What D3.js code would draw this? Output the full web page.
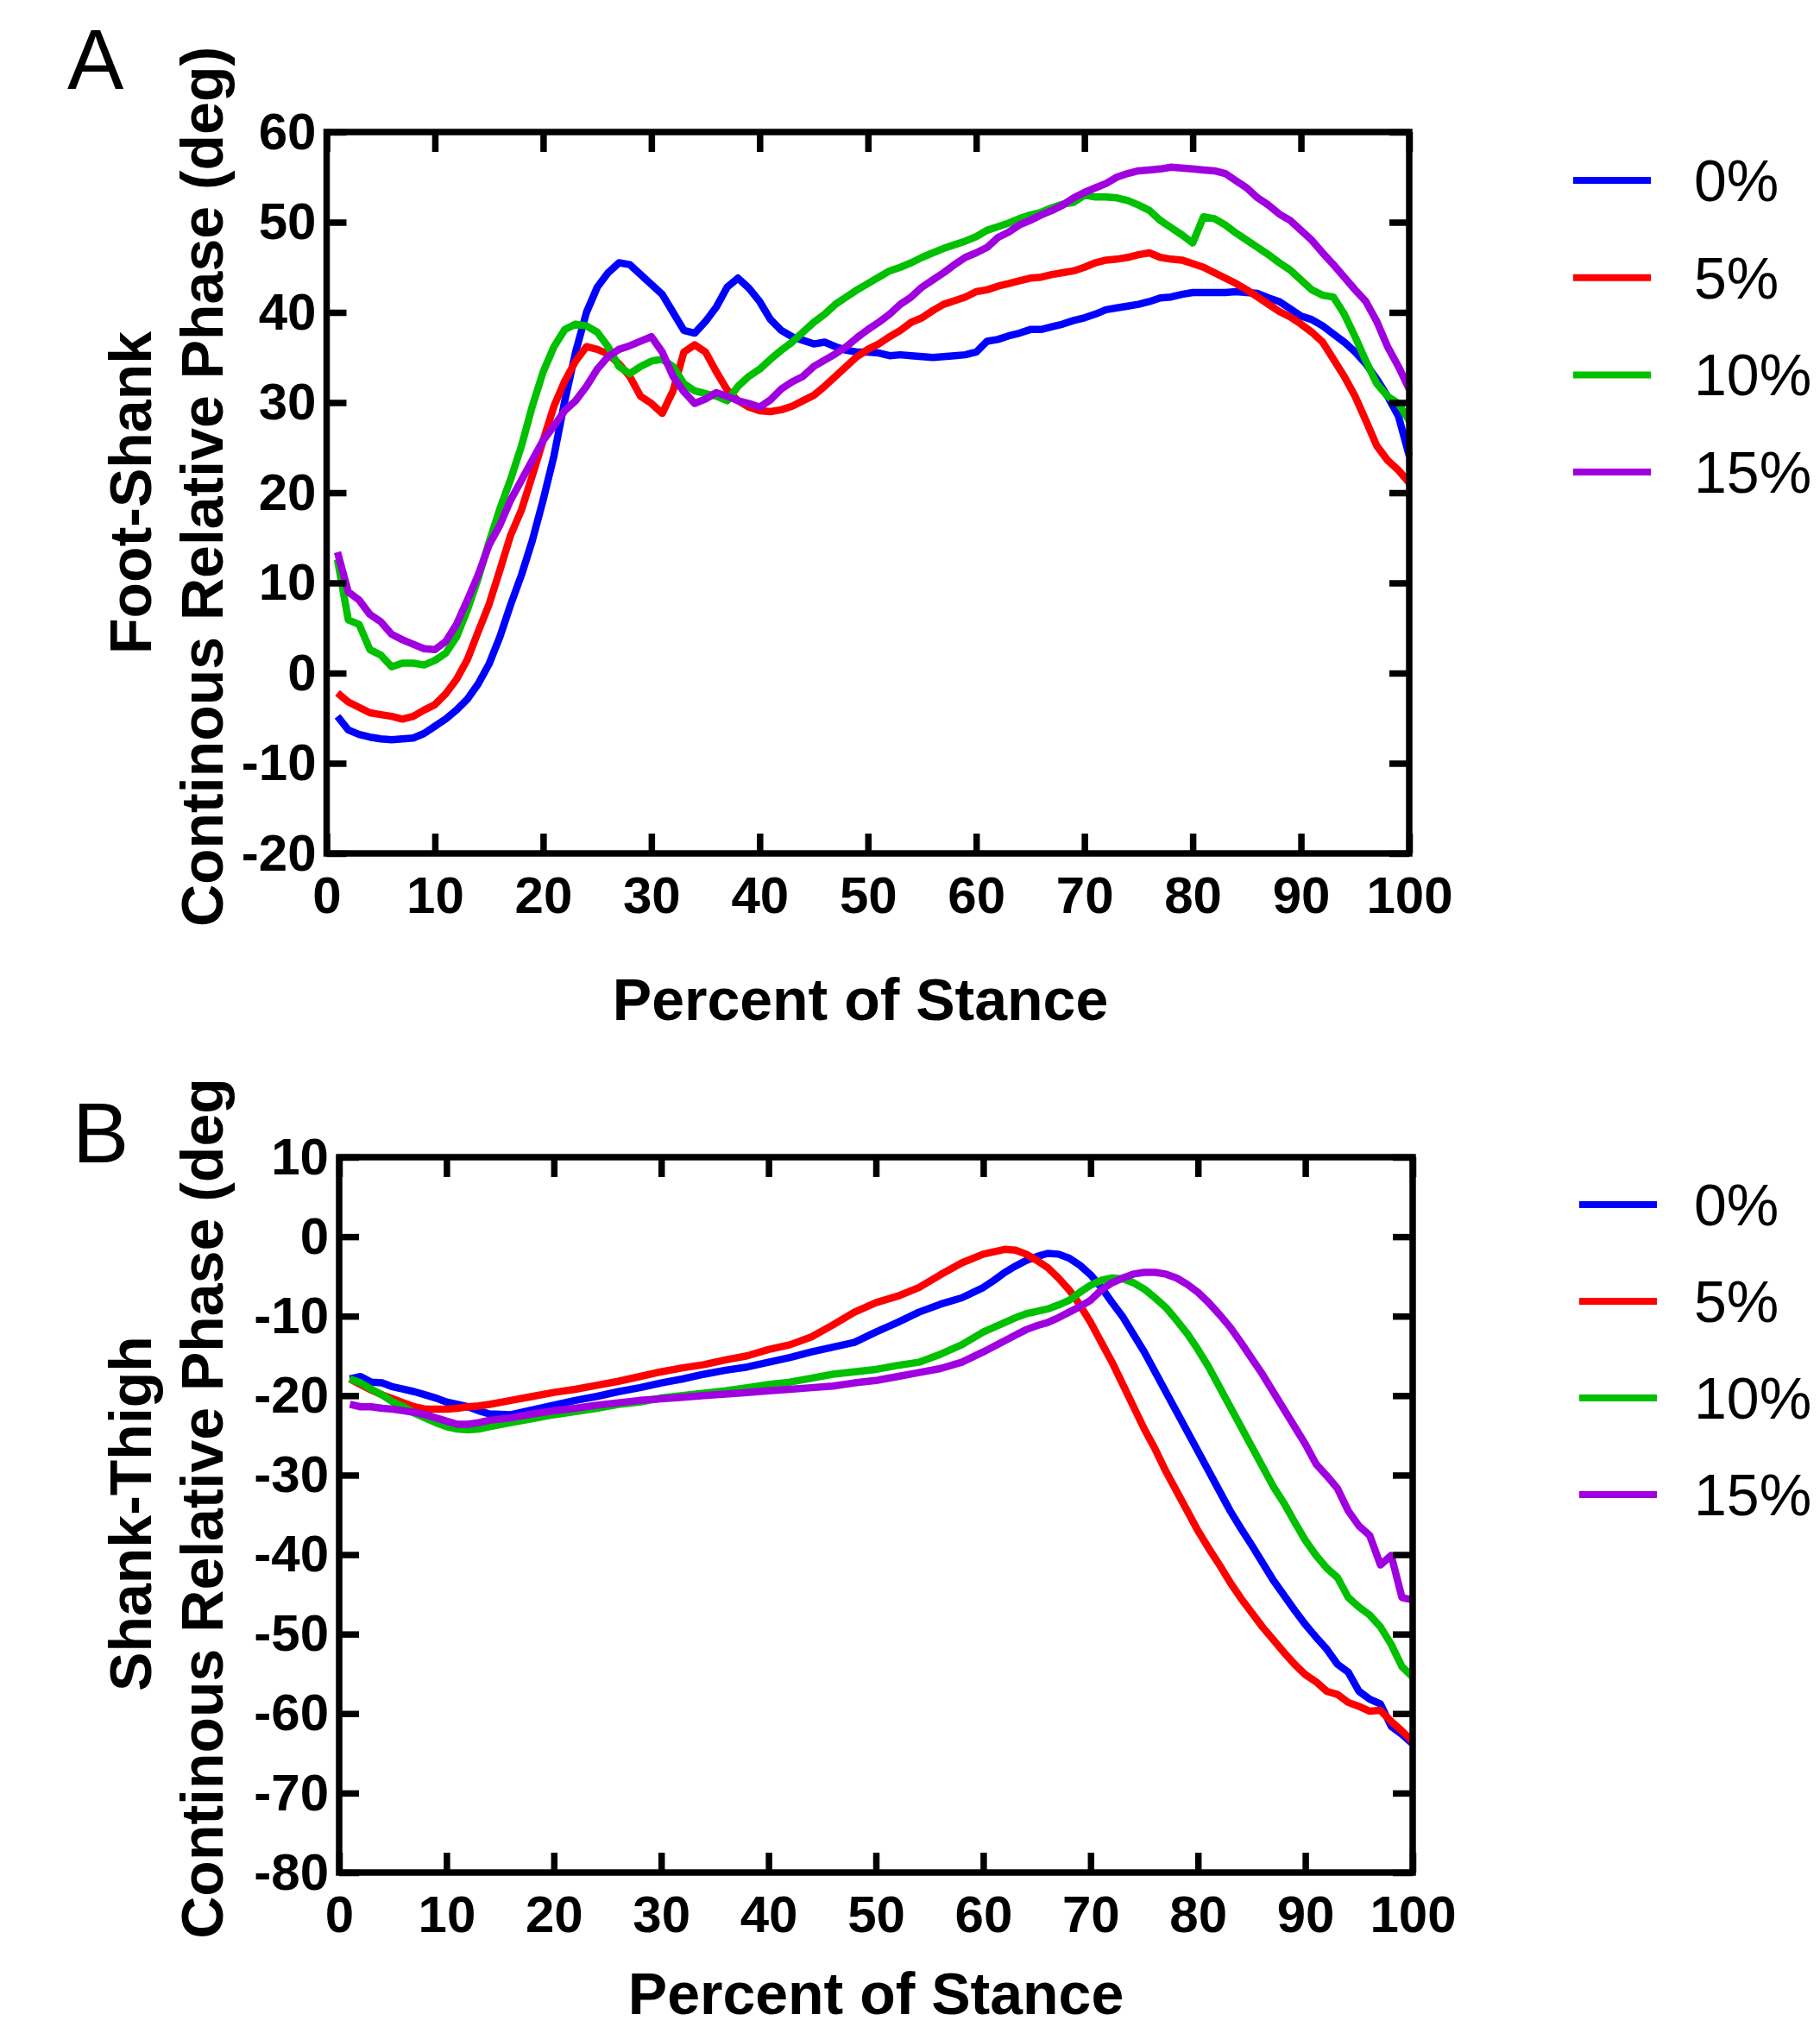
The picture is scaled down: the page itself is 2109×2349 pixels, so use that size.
<!DOCTYPE html>
<html>
<head>
<meta charset="utf-8">
<script src="https://cdn.jsdelivr.net/npm/d3@7"></script>
<style>
  body { margin: 0; background: #fff; }
  text { font-family: "Liberation Sans", Arial, Helvetica, sans-serif; fill: #000; }
</style>
</head>
<body>
<script>
const w = 2109;
const h = 2349;

// legend / series
const conditions = ['0%', '5%', '10%', '15%'];
const colors = ['#0000ff', '#ff0000', '#00c000', '#a000e0'];

// ticks
const ticksX = [0, 10, 20, 30, 40, 50, 60, 70, 80, 90, 100];
const ticksA = [-20, -10, 0, 10, 20, 30, 40, 50, 60];
const ticksB = [-80, -70, -60, -50, -40, -30, -20, -10, 0, 10];

// panel A: foot-shank, percent of stance 1..100
const stanceA = d3.range(1, 101);
const footShank0 = [
  -4.8, -6.3, -6.8, -7.1, -7.3, -7.4, -7.3, -7.2, -6.7, -5.9,
  -5.1, -4.1, -2.9, -1.2, 1.0, 4.0, 7.6, 10.9, 14.7, 19.2,
  24.1, 30.2, 35.6, 40.0, 42.8, 44.4, 45.5, 45.3, 44.2, 43.1,
  42.0, 40.0, 38.0, 37.7, 39.0, 40.6, 42.8, 43.8, 42.7, 41.2,
  39.2, 38.0, 37.3, 36.9, 36.5, 36.7, 36.2, 35.8, 35.6, 35.6,
  35.5, 35.2, 35.3, 35.2, 35.1, 35.0, 35.1, 35.2, 35.3, 35.6,
  36.8, 37.0, 37.4, 37.7, 38.1, 38.1, 38.4, 38.7, 39.1, 39.4,
  39.8, 40.3, 40.5, 40.7, 40.9, 41.2, 41.6, 41.7, 42.0, 42.2,
  42.2, 42.2, 42.2, 42.3, 42.2, 42.1, 41.6, 41.2, 40.4, 39.6,
  39.2, 38.5, 37.6, 36.7, 35.6, 34.3, 32.6, 30.7, 28.5, 24.1
];
const footShank5 = [
  -2.2, -3.2, -3.8, -4.4, -4.6, -4.8, -5.1, -4.8, -4.1, -3.5,
  -2.3, -0.7, 1.5, 4.6, 7.6, 11.4, 15.3, 18.1, 21.9, 25.8,
  29.6, 32.4, 34.6, 36.2, 35.9, 35.4, 34.3, 32.9, 30.7, 29.9,
  28.8, 31.3, 35.6, 36.4, 35.6, 33.4, 31.4, 30.2, 29.5, 29.1,
  29.0, 29.2, 29.6, 30.2, 30.8, 31.8, 32.9, 34.0, 35.1, 35.9,
  36.5, 37.3, 38.0, 38.9, 39.4, 40.2, 40.9, 41.3, 41.7, 42.3,
  42.5, 42.9, 43.2, 43.5, 43.8, 43.9, 44.2, 44.4, 44.6, 45.0,
  45.5, 45.8, 45.9, 46.1, 46.4, 46.6, 46.1, 45.9, 45.8, 45.4,
  45.0, 44.4, 43.8, 43.2, 42.5, 41.7, 40.9, 40.1, 39.5, 38.7,
  37.8, 36.7, 34.8, 32.9, 30.7, 28.0, 25.2, 23.6, 22.5, 21.1
];
const footShank10 = [
  12.6, 5.9, 5.4, 2.6, 2.0, 0.7, 1.1, 1.1, 0.9, 1.4,
  2.2, 4.0, 7.0, 10.5, 14.5, 18.2, 21.5, 25.2, 29.6, 33.4,
  36.2, 38.1, 38.7, 38.5, 37.8, 36.2, 34.0, 33.2, 34.0, 34.6,
  34.8, 34.0, 32.1, 31.3, 31.0, 30.7, 30.2, 31.8, 32.9, 33.7,
  34.8, 35.8, 36.7, 37.8, 38.9, 39.8, 40.9, 41.7, 42.5, 43.2,
  43.9, 44.6, 45.0, 45.5, 46.1, 46.6, 47.1, 47.5, 47.9, 48.4,
  49.1, 49.5, 49.9, 50.4, 50.8, 51.1, 51.6, 52.0, 52.2, 53.0,
  52.8, 52.8, 52.7, 52.4, 51.9, 51.3, 50.2, 49.4, 48.6, 47.7,
  50.6, 50.4, 49.7, 48.8, 48.0, 47.2, 46.4, 45.5, 44.7, 43.6,
  42.5, 41.9, 41.7, 39.8, 37.3, 34.6, 32.1, 30.7, 29.9, 28.0
];
const footShank15 = [
  13.4, 9.0, 8.1, 6.5, 5.7, 4.3, 3.7, 3.2, 2.7, 2.6,
  3.5, 5.4, 8.1, 10.9, 14.2, 16.4, 19.2, 21.4, 23.6, 25.8,
  27.4, 29.1, 30.2, 31.8, 33.7, 35.1, 35.9, 36.3, 36.8, 37.3,
  35.6, 32.9, 31.2, 29.9, 30.4, 31.1, 30.7, 30.2, 29.9, 29.5,
  30.3, 31.5, 32.3, 32.9, 34.0, 34.7, 35.4, 36.2, 37.2, 38.1,
  38.9, 39.8, 40.9, 41.7, 42.8, 43.6, 44.4, 45.3, 46.1, 46.6,
  47.2, 48.3, 48.9, 49.7, 50.2, 50.8, 51.3, 51.9, 52.7, 53.3,
  53.8, 54.3, 55.0, 55.4, 55.7, 55.8, 55.9, 56.1, 56.0, 55.9,
  55.8, 55.7, 55.4, 54.6, 53.8, 52.7, 51.9, 50.9, 50.2, 49.1,
  48.0, 46.6, 45.3, 43.9, 42.5, 41.2, 39.0, 36.2, 34.0, 31.5
];

// panel B: shank-thigh, read at 1..14, 16..58 (every 2), 60..100
const stanceB = [...d3.range(1, 15), ...d3.range(16, 60, 2), ...d3.range(60, 101)];
const shankThigh0 = [
  -17.9, -17.6, -18.3, -18.4, -18.9, -19.2, -19.5, -19.9, -20.3, -20.8, -21.1, -21.4, -21.9, -22.3,
  -22.4, -21.8, -21.2, -20.6, -20.1, -19.5, -19.0, -18.4, -17.9, -17.3, -16.8,
  -16.4, -15.8, -15.2, -14.5, -13.9, -13.3, -12.0, -10.8, -9.5, -8.5, -7.7,
  -6.4, -5.5, -4.5, -3.7, -3.0, -2.5, -2.1, -2.2, -2.7, -3.6,
  -4.8, -6.4, -8.3, -10.1, -12.3, -14.5, -17.0, -19.5, -22.0, -24.5,
  -27.0, -29.5, -32.0, -34.5, -36.7, -38.8, -41.0, -43.2, -45.1, -47.0,
  -48.8, -50.4, -51.9, -53.8, -54.8, -57.2, -58.2, -58.8, -61.6, -62.6, -63.8
];
const shankThigh5 = [
  -17.9, -18.6, -19.3, -19.9, -20.4, -20.9, -21.4, -21.7, -21.7, -21.7, -21.6, -21.4, -21.3, -21.1,
  -20.6, -20.1, -19.6, -19.2, -18.7, -18.2, -17.6, -17.0, -16.5, -16.1, -15.5,
  -15.0, -14.2, -13.6, -12.6, -11.1, -9.5, -8.3, -7.5, -6.4, -4.8, -3.3,
  -2.2, -1.9, -1.6, -1.7, -2.2, -3.0, -3.9, -5.2, -6.7, -8.6,
  -10.8, -13.3, -15.8, -18.6, -21.4, -24.2, -26.7, -29.5, -32.0, -34.5,
  -37.0, -39.2, -41.3, -43.5, -45.5, -47.3, -49.1, -50.7, -52.3, -53.8,
  -55.1, -56.0, -57.2, -57.6, -58.6, -59.1, -59.7, -59.6, -61.0, -62.2, -63.5
];
const shankThigh10 = [
  -17.9, -18.4, -19.2, -19.9, -20.8, -21.4, -22.2, -22.8, -23.4, -23.9, -24.2, -24.3, -24.2, -23.9,
  -23.4, -22.9, -22.4, -22.0, -21.6, -21.1, -20.8, -20.3, -20.0, -19.7, -19.4,
  -19.0, -18.6, -18.3, -17.8, -17.3, -17.0, -16.7, -16.2, -15.8, -14.8, -13.6,
  -12.0, -11.4, -10.8, -10.2, -9.7, -9.4, -9.1, -8.6, -8.0, -7.0,
  -6.1, -5.5, -5.2, -5.3, -5.8, -6.6, -7.7, -8.9, -10.5, -12.2,
  -14.2, -16.4, -18.9, -21.4, -23.9, -26.4, -28.9, -31.4, -33.5, -35.9,
  -38.2, -40.1, -41.7, -42.9, -45.4, -46.6, -47.6, -49.1, -51.3, -54.1, -55.4
];
const shankThigh15 = [
  -21.1, -21.4, -21.4, -21.6, -21.7, -21.9, -22.1, -22.4, -22.8, -23.2, -23.6, -23.6, -23.4, -23.1,
  -22.8, -22.3, -21.9, -21.6, -21.2, -20.9, -20.6, -20.4, -20.2, -20.0, -19.8,
  -19.6, -19.4, -19.2, -19.0, -18.8, -18.4, -18.1, -17.6, -17.1, -16.6, -15.8,
  -14.5, -13.8, -13.1, -12.4, -11.7, -11.2, -10.8, -10.2, -9.5, -8.8,
  -8.0, -6.7, -5.8, -5.2, -4.7, -4.5, -4.5, -4.7, -5.2, -6.0,
  -7.0, -8.3, -9.8, -11.4, -13.3, -15.3, -17.3, -19.5, -21.7, -23.9,
  -26.1, -28.6, -30.1, -31.7, -34.5, -36.4, -37.6, -41.3, -40.1, -45.4, -45.7
];

const panels = [
  {
    letter: 'A', letterX: 78, letterY: 103,
    left: 378.5, right: 1633, top: 153, bottom: 989,
    yDomain: [-20, 60], yTicks: ticksA,
    stance: stanceA,
    series: [footShank0, footShank5, footShank10, footShank15],
    title1: 'Foot-Shank', title2: 'Continous Relative Phase (deg)',
    t1: [175, 571], t2: [258, 564],
    xTitleX: 997, xTitleY: 1182,
    legX: 1823, legY: 209, legStep: 112.7, legText: 140
  },
  {
    letter: 'B', letterX: 84, letterY: 1347,
    left: 393, right: 1637, top: 1341, bottom: 2170,
    yDomain: [-80, 10], yTicks: ticksB,
    stance: stanceB,
    series: [shankThigh0, shankThigh5, shankThigh10, shankThigh15],
    title1: 'Shank-Thigh', title2: 'Continous Relative Phase (deg',
    t1: [175, 1754], t2: [258, 1748],
    xTitleX: 1015, xTitleY: 2334,
    legX: 1830, legY: 1396, legStep: 112, legText: 133
  }
];

const svg = d3.select('body').append('svg')
  .attr('width', w)
  .attr('height', h);

function drawPanel(p) {
  const x = d3.scaleLinear().domain([0, 100]).range([p.left, p.right]);
  const y = d3.scaleLinear().domain(p.yDomain).range([p.bottom, p.top]);
  const g = svg.append('g');

  // data lines
  const line = d3.line()
    .x(d => x(d[0]))
    .y(d => y(d[1]));

  p.series.forEach((vals, i) => {
    g.append('path')
      .datum(p.stance.map((s, j) => [s, vals[j]]))
      .attr('d', line)
      .attr('fill', 'none')
      .attr('stroke', colors[i])
      .attr('stroke-width', 8.5)
      .attr('stroke-linejoin', 'round');
  });

  // axes, ticks pointing inward on all four sides
  const axes = [
    [d3.axisBottom(x).tickValues(ticksX).tickPadding(26), `translate(0,${p.bottom})`, true],
    [d3.axisTop(x).tickValues(ticksX), `translate(0,${p.top})`, false],
    [d3.axisLeft(y).tickValues(p.yTicks).tickPadding(12), `translate(${p.left},0)`, true],
    [d3.axisRight(y).tickValues(p.yTicks), `translate(${p.right},0)`, false]
  ];
  axes.forEach(([ax, tr, labels]) => {
    const a = g.append('g')
      .attr('transform', tr)
      .call(ax.tickSizeInner(-23).tickSizeOuter(0).tickFormat(d => labels ? String(d) : ''));
    a.select('.domain').remove();
    a.selectAll('.tick line').attr('stroke', '#000').attr('stroke-width', 7.5);
    a.selectAll('.tick text')
      .attr('font-size', '60px')
      .attr('font-weight', 'bold')
      .attr('fill', '#000');
  });

  // frame
  g.append('rect')
    .attr('x', p.left)
    .attr('y', p.top)
    .attr('width', p.right - p.left)
    .attr('height', p.bottom - p.top)
    .attr('fill', 'none')
    .attr('stroke', '#000')
    .attr('stroke-width', 7.5);

  // titles
  g.append('text')
    .attr('x', p.xTitleX)
    .attr('y', p.xTitleY)
    .attr('text-anchor', 'middle')
    .attr('font-size', '68px')
    .attr('font-weight', 'bold')
    .text('Percent of Stance');

  [[p.title1, p.t1], [p.title2, p.t2]].forEach(([t, pos]) => {
    g.append('text')
      .attr('transform', `translate(${pos[0]},${pos[1]}) rotate(-90)`)
      .attr('text-anchor', 'middle')
      .attr('font-size', '68px')
      .attr('font-weight', 'bold')
      .text(t);
  });

  g.append('text')
    .attr('x', p.letterX)
    .attr('y', p.letterY)
    .attr('font-size', '98px')
    .text(p.letter);

  // legend
  const leg = g.selectAll('.legend')
    .data(conditions)
    .enter()
    .append('g')
    .attr('transform', (d, i) => `translate(${p.legX},${p.legY + i * p.legStep})`);
  leg.append('line')
    .attr('x1', 0).attr('x2', 90)
    .attr('stroke', (d, i) => colors[i])
    .attr('stroke-width', 8);
  leg.append('text')
    .attr('x', p.legText)
    .attr('y', 24)
    .attr('font-size', '68px')
    .text(d => d);
}

panels.forEach(drawPanel);
</script>
</body>
</html>
